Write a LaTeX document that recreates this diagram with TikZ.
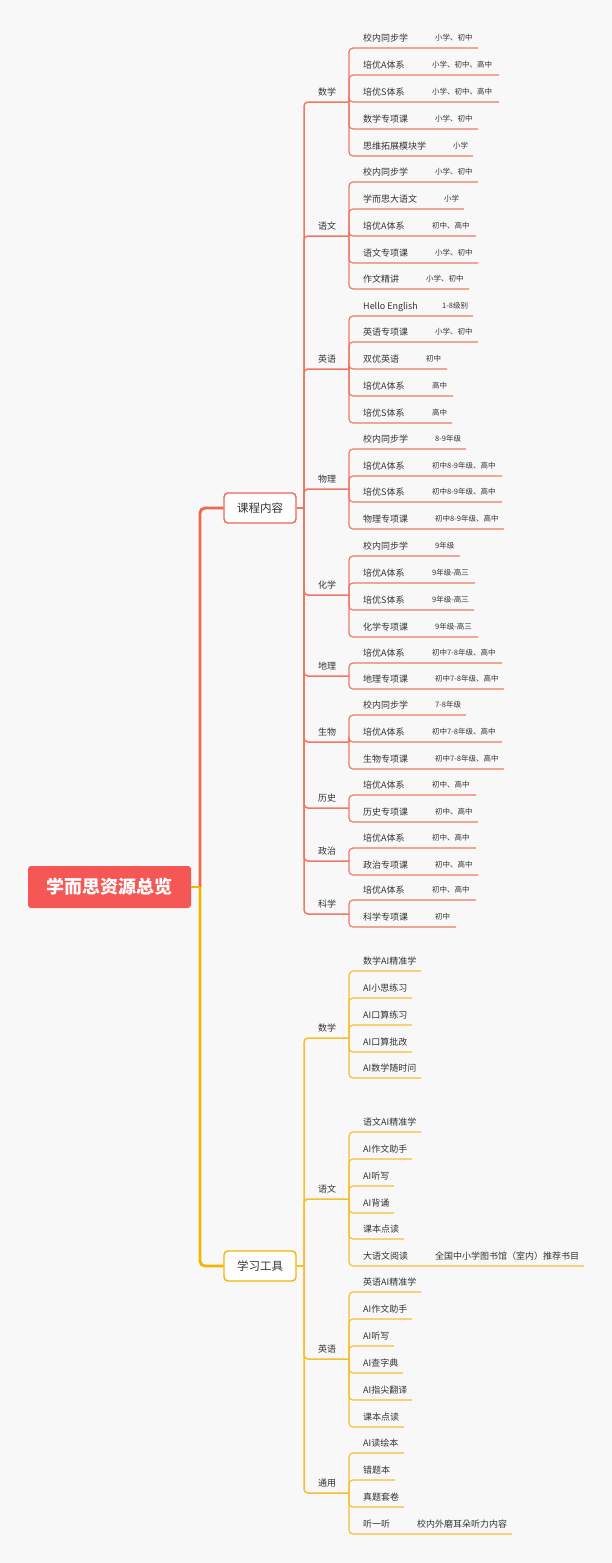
\documentclass[tikz,border=0pt]{standalone}
\usepackage{fontspec}
\setmainfont{Noto Sans CJK SC}
\definecolor{bg}{HTML}{F8F8F8}
\definecolor{rb}{HTML}{F07862}
\definecolor{rbd}{HTML}{F06650}
\definecolor{yb}{HTML}{F6BE30}
\definecolor{ybd}{HTML}{F5B400}
\definecolor{rootred}{HTML}{F55757}
\definecolor{txt}{HTML}{333333}
\tikzset{
 leaftext/.style={anchor=west,inner sep=0pt,font=\fontsize{9}{10}\selectfont,text=txt,text height=7.9pt,text depth=1.1pt},
 gradetext/.style={anchor=west,inner sep=0pt,font=\fontsize{7.5}{9}\selectfont,text=txt,text height=6.6pt,text depth=0.9pt},
 subjtext/.style={inner sep=0pt,font=\fontsize{9}{10}\selectfont,text=txt,text height=7.9pt,text depth=1.1pt},
 leafline/.style={line width=1.2pt,rounded corners=4pt},
 subjline/.style={line width=1.5pt,rounded corners=4pt},
 mainline/.style={line width=2.8pt,rounded corners=5pt},
 topic/.style={draw,line width=1.4pt,fill=white,rounded corners=4pt,minimum width=72pt,minimum height=30pt,font=\fontsize{11.5}{13}\selectfont,text=txt,inner sep=0pt},
 rootbox/.style={fill=rootred,rounded corners=3pt,minimum width=163pt,minimum height=42pt,font=\fontsize{18}{20}\selectfont\bfseries,text=white,inner sep=0pt},
}
% subject: id, y, text, color, parent
\newcommand\sj[5]{%
 \node[subjtext] (#1) at (327,{#2-10}) {#3};
 \coordinate (#1j) at (349,#2);
 \draw[subjline,#4] (#5) |- (#1j);}
% leaf with grade: id, parent, y, text, grade x, grade, xend, color
\newcommand\lf[8]{%
 \node[leaftext] (#1) at (363,{#3-10}) {#4};
 \node[gradetext] (#1g) at (#5,{#3-10}) {#6};
 \coordinate (#1e) at (#7,#3);
 \draw[leafline,#8] (#2) |- (#1e);}
% tool leaf: id, parent, y, text, xend, color
\newcommand\lt[6]{%
 \node[leaftext] (#1) at (363,{#3-10}) {#4};
 \coordinate (#1e) at (#5,#3);
 \draw[leafline,#6] (#2) |- (#1e);}
\begin{document}
\begin{tikzpicture}[x=1pt,y=-1pt]
\fill[bg] (0,0) rectangle (612,1563);
\path[use as bounding box] (0,0) rectangle (612,1563);

\node[rootbox] (root) at (109.5,887) {学而思资源总览};
\node[topic,draw=rbd] (kc) at (260,508) {课程内容};
\node[topic,draw=ybd] (xg) at (260,1266) {学习工具};
\coordinate (rj) at (200,887);
\draw[mainline,rbd] (rj) |- (kc.west);
\draw[mainline,ybd] (rj) |- (xg.west);
\draw[line width=2.8pt,ybd] (root.east) -- (rj);

\coordinate (kj) at (304,508);
\coordinate (tj) at (304,1266);
\draw[subjline,rb] (kc.east) -- (kj);
\draw[subjline,yb] (xg.east) -- (tj);

% ---------- 课程内容 ----------
\sj{s1}{102}{数学}{rb}{kj}
\lf{a1}{s1j}{48}{校内同步学}{435}{小学、初中}{478}{rb}
\lf{a2}{s1j}{75}{培优A体系}{432}{小学、初中、高中}{499}{rb}
\lf{a3}{s1j}{102}{培优S体系}{432}{小学、初中、高中}{499}{rb}
\lf{a4}{s1j}{129}{数学专项课}{435}{小学、初中}{478}{rb}
\lf{a5}{s1j}{156}{思维拓展模块学}{453}{小学}{473}{rb}

\sj{s2}{236}{语文}{rb}{kj}
\lf{b1}{s2j}{182}{校内同步学}{435}{小学、初中}{478}{rb}
\lf{b2}{s2j}{209}{学而思大语文}{444}{小学}{464}{rb}
\lf{b3}{s2j}{236}{培优A体系}{432}{初中、高中}{476}{rb}
\lf{b4}{s2j}{263}{语文专项课}{435}{小学、初中}{478}{rb}
\lf{b5}{s2j}{289}{作文精讲}{426}{小学、初中}{469}{rb}

\sj{s3}{369}{英语}{rb}{kj}
\lf{c1}{s3j}{316}{Hello English}{442}{1-8级别}{473}{rb}
\lf{c2}{s3j}{342}{英语专项课}{435}{小学、初中}{478}{rb}
\lf{c3}{s3j}{369}{双优英语}{426}{初中}{447}{rb}
\lf{c4}{s3j}{396}{培优A体系}{432}{高中}{453}{rb}
\lf{c5}{s3j}{423}{培优S体系}{432}{高中}{452}{rb}

\sj{s4}{489}{物理}{rb}{kj}
\lf{d1}{s4j}{449}{校内同步学}{435}{8-9年级}{466}{rb}
\lf{d2}{s4j}{476}{培优A体系}{432}{初中8-9年级、高中}{502}{rb}
\lf{d3}{s4j}{502}{培优S体系}{432}{初中8-9年级、高中}{502}{rb}
\lf{d4}{s4j}{529}{物理专项课}{435}{初中8-9年级、高中}{504}{rb}

\sj{s5}{595}{化学}{rb}{kj}
\lf{e1}{s5j}{556}{校内同步学}{435}{9年级}{460}{rb}
\lf{e2}{s5j}{583}{培优A体系}{432}{9年级-高三}{475}{rb}
\lf{e3}{s5j}{610}{培优S体系}{432}{9年级-高三}{474}{rb}
\lf{e4}{s5j}{637}{化学专项课}{435}{9年级-高三}{478}{rb}

\sj{s6}{676}{地理}{rb}{kj}
\lf{f1}{s6j}{663}{培优A体系}{432}{初中7-8年级、高中}{502}{rb}
\lf{f2}{s6j}{689}{地理专项课}{435}{初中7-8年级、高中}{504}{rb}

\sj{s7}{742}{生物}{rb}{kj}
\lf{g1}{s7j}{715}{校内同步学}{435}{7-8年级}{466}{rb}
\lf{g2}{s7j}{742}{培优A体系}{432}{初中7-8年级、高中}{502}{rb}
\lf{g3}{s7j}{769}{生物专项课}{435}{初中7-8年级、高中}{504}{rb}

\sj{s8}{808}{历史}{rb}{kj}
\lf{h1}{s8j}{795}{培优A体系}{432}{初中、高中}{476}{rb}
\lf{h2}{s8j}{822}{历史专项课}{435}{初中、高中}{478}{rb}

\sj{s9}{861}{政治}{rb}{kj}
\lf{i1}{s9j}{848}{培优A体系}{432}{初中、高中}{476}{rb}
\lf{i2}{s9j}{875}{政治专项课}{435}{初中、高中}{478}{rb}

\sj{s10}{914}{科学}{rb}{kj}
\lf{j1}{s10j}{900}{培优A体系}{432}{初中、高中}{476}{rb}
\lf{j2}{s10j}{927}{科学专项课}{435}{初中}{456}{rb}

% ---------- 学习工具 ----------
\sj{t1}{1038}{数学}{yb}{tj}
\lt{m1}{t1j}{971}{数学AI精准学}{421}{yb}
\lt{m2}{t1j}{998}{AI小思练习}{412}{yb}
\lt{m3}{t1j}{1025}{AI口算练习}{412}{yb}
\lt{m4}{t1j}{1052}{AI口算批改}{412}{yb}
\lt{m5}{t1j}{1078}{AI数学随时问}{421}{yb}

\sj{t2}{1199}{语文}{yb}{tj}
\lt{n1}{t2j}{1132}{语文AI精准学}{421}{yb}
\lt{n2}{t2j}{1159}{AI作文助手}{412}{yb}
\lt{n3}{t2j}{1186}{AI听写}{394}{yb}
\lt{n4}{t2j}{1213}{AI背诵}{394}{yb}
\lt{n5}{t2j}{1239}{课本点读}{404}{yb}
\lt{n6}{t2j}{1266}{大语文阅读}{584}{yb}
\node[leaftext] (n6g) at (435,1256) {全国中小学图书馆（室内）推荐书目};

\sj{t3}{1359}{英语}{yb}{tj}
\lt{o1}{t3j}{1292}{英语AI精准学}{421}{yb}
\lt{o2}{t3j}{1319}{AI作文助手}{412}{yb}
\lt{o3}{t3j}{1346}{AI听写}{394}{yb}
\lt{o4}{t3j}{1373}{AI查字典}{403}{yb}
\lt{o5}{t3j}{1400}{AI指尖翻译}{412}{yb}
\lt{o6}{t3j}{1427}{课本点读}{404}{yb}

\sj{t4}{1493}{通用}{yb}{tj}
\lt{p1}{t4j}{1453}{AI读绘本}{404}{yb}
\lt{p2}{t4j}{1480}{错题本}{395}{yb}
\lt{p3}{t4j}{1507}{真题套卷}{404}{yb}
\lt{p4}{t4j}{1534}{听一听}{512}{yb}
\node[leaftext] (p4g) at (417,1524) {校内外磨耳朵听力内容};
\end{tikzpicture}
\end{document}
